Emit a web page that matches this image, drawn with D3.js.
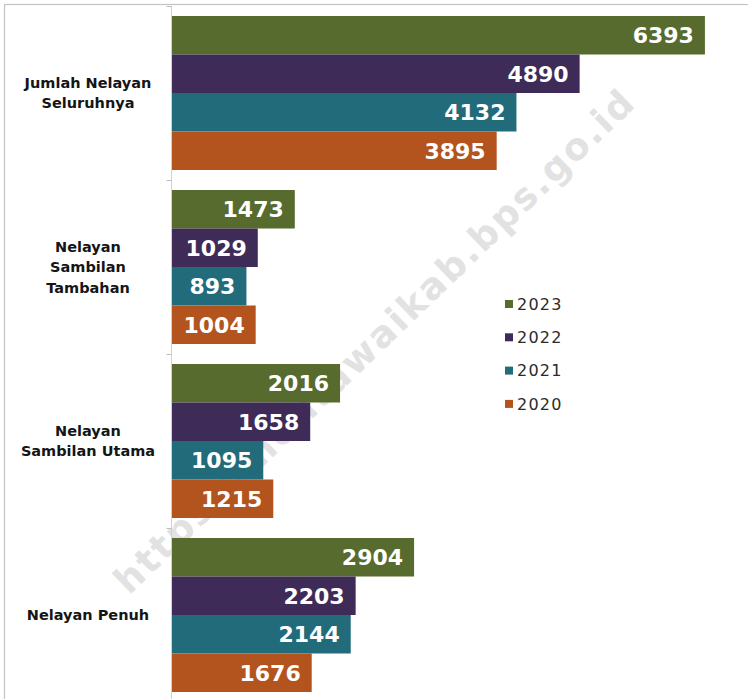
<!DOCTYPE html>
<html>
<head>
<meta charset="utf-8">
<script src="https://cdn.jsdelivr.net/npm/d3@7"></script>
<style>
  html, body { margin: 0; padding: 0; background: #fff; }
  svg { display: block; }
</style>
</head>
<body>
<svg id="chart" width="748" height="699"></svg>
<script>
// data
var categories = ["Jumlah Nelayan Seluruhnya", "Nelayan Sambilan Tambahan", "Nelayan Sambilan Utama", "Nelayan Penuh"];
var catLines = [["Jumlah Nelayan", "Seluruhnya"], ["Nelayan", "Sambilan", "Tambahan"], ["Nelayan", "Sambilan Utama"], ["Nelayan Penuh"]];
var years = ["2023", "2022", "2021", "2020"];
var v2023 = [6393, 1473, 2016, 2904];
var v2022 = [4890, 1029, 1658, 2203];
var v2021 = [4132, 893, 1095, 2144];
var v2020 = [3895, 1004, 1215, 1676];
var series = [v2023, v2022, v2021, v2020];
var colors = ["#566b2d", "#3f2b57", "#216b7b", "#b3541f"];

var svg = d3.select("#chart");
var W = 748, H = 699;

// frame round the picture
svg.append("rect")
    .attr("x", 4.5).attr("y", 4.5)
    .attr("width", W).attr("height", H)
    .attr("fill", "none")
    .attr("stroke", "#c4c4c4")
    .attr("stroke-width", 1.2);

// watermark (sits behind the bars)
svg.append("text")
    .attr("transform", "translate(374,342) rotate(-44)")
    .attr("text-anchor", "middle")
    .attr("dominant-baseline", "central")
    .attr("font-family", "'DejaVu Sans', sans-serif")
    .attr("font-weight", "bold")
    .attr("font-size", 37)
    .attr("textLength", 705)
    .attr("lengthAdjust", "spacing")
    .attr("fill", "#e2e2e2")
    .text("https://mentawaikab.bps.go.id");

const x = d3.scaleLinear().domain([0, 6400]).range([172, 705.5]);
const y = d3.scaleBand().domain(categories).range([6, 702])
    .paddingInner(0.115).paddingOuter(0.0575);
const yIn = d3.scaleBand().domain(years).range([0, y.bandwidth()]);
const color = d3.scaleOrdinal().domain(years).range(colors);

// axis line + ticks at group boundaries
var axisX = 171.5;
svg.append("line")
    .attr("x1", axisX).attr("x2", axisX)
    .attr("y1", 6).attr("y2", H)
    .attr("stroke", "#d0d0d0").attr("stroke-width", 1);
var bounds = categories.map(function(c) { return y(c) - y.step() * y.paddingInner() / 2; });
svg.selectAll(".tick").data(bounds).enter().append("line")
    .attr("x1", axisX - 5).attr("x2", axisX)
    .attr("y1", function(d) { return Math.round(d) + 0.5; })
    .attr("y2", function(d) { return Math.round(d) + 0.5; })
    .attr("stroke", "#bdbdbd");

var rows = [];
categories.forEach(function(c, i) {
    years.forEach(function(yr, j) {
        rows.push({ cat: c, year: yr, value: series[j][i] });
    });
});

var g = svg.append("g");
g.selectAll("rect.bar").data(rows).enter().append("rect")
    .attr("class", "bar")
    .attr("x", x(0))
    .attr("y", function(d) { return y(d.cat) + yIn(d.year); })
    .attr("width", function(d) { return x(d.value) - x(0); })
    .attr("height", yIn.bandwidth())
    .attr("fill", function(d) { return color(d.year); });

g.selectAll("text.val").data(rows).enter().append("text")
    .attr("class", "val")
    .attr("x", function(d) { return x(d.value) - 11; })
    .attr("y", function(d) { return y(d.cat) + yIn(d.year) + yIn.bandwidth() / 2; })
    .attr("dy", "0.36em")
    .attr("text-anchor", "end")
    .attr("font-family", "'DejaVu Sans', sans-serif")
    .attr("font-weight", "bold")
    .attr("font-size", 22)
    .attr("fill", "#ffffff")
    .text(function(d) { return d.value; });

// category labels
categories.forEach(function(c, i) {
    var lines = catLines[i];
    var mid = y(c) + y.bandwidth() / 2;
    var lh = 20.5;
    var t = svg.append("text")
        .attr("text-anchor", "middle")
        .attr("font-family", "'DejaVu Sans', sans-serif")
        .attr("font-weight", "bold")
        .attr("font-size", 14.5)
        .attr("fill", "#151515");
    lines.forEach(function(l, k) {
        t.append("tspan")
            .attr("x", 88)
            .attr("y", mid + (k - (lines.length - 1) / 2) * lh)
            .attr("dy", "0.36em")
            .text(l);
    });
});

// legend
var leg = svg.append("g").attr("transform", "translate(505,304)");
var li = leg.selectAll("g").data(years).enter().append("g")
    .attr("transform", function(d, i) { return "translate(0," + (i * 33.3) + ")"; });
li.append("rect")
    .attr("x", 0).attr("y", -4)
    .attr("width", 8).attr("height", 8)
    .attr("fill", function(d) { return color(d); });
li.append("text")
    .attr("x", 12).attr("y", 0).attr("dy", "0.36em")
    .attr("font-family", "'DejaVu Sans', sans-serif")
    .attr("font-size", 16)
    .attr("letter-spacing", 1.2)
    .attr("fill", "#2b2b2b")
    .text(function(d) { return d; });
</script>
</body>
</html>
